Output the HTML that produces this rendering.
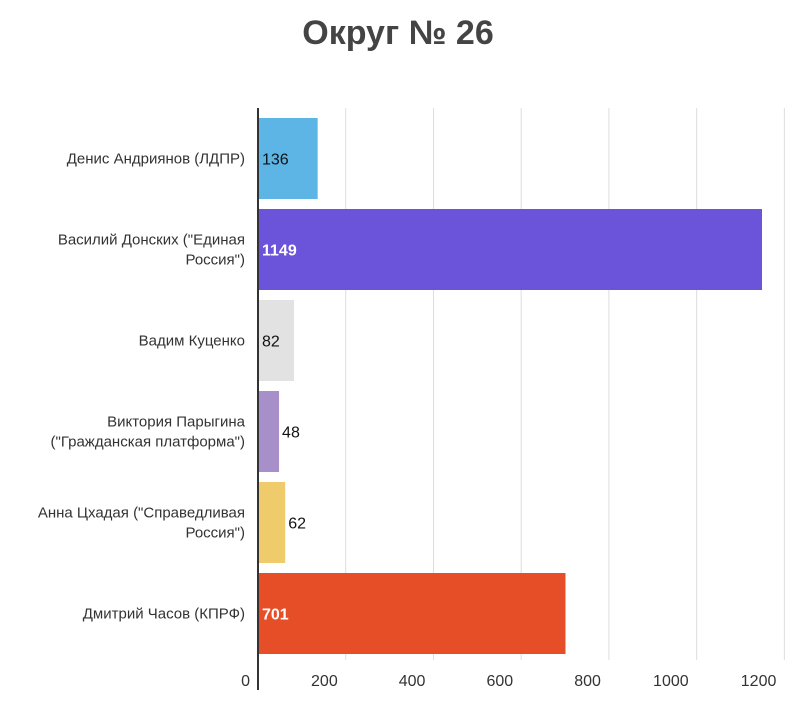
<!DOCTYPE html>
<html><head><meta charset="utf-8">
<style>
body{margin:0;background:#fff;font-family:"Liberation Sans",sans-serif;}
svg{display:block}
</style></head>
<body>
<svg id="c" width="800" height="705">
<text x="398" y="44" text-anchor="middle" font-size="34" font-weight="bold" fill="#444">Округ № 26</text>
<g id="grid"></g><g id="bars"></g><g id="cats"></g><g id="ticks"></g>
<line x1="258" y1="108" x2="258" y2="690" stroke="#333" stroke-width="2"/>
</svg>
<script>
const categories=[["Денис Андриянов (ЛДПР)"],["Василий Донских (\"Единая","Россия\")"],["Вадим Куценко"],["Виктория Парыгина","(\"Гражданская платформа\")"],["Анна Цхадая (\"Справедливая","Россия\")"],["Дмитрий Часов (КПРФ)"]];
const values=[136,1149,82,48,62,701];
const colors=["#5db5e6","#6b54da","#e2e2e2","#a78fc9","#f0cb6c","#e64e27"];
const tickValues=[0,200,400,600,800,1000,1200];
const x0=258,scale=(762-258)/1149,topY=113,band=91,bh=81;
const X=v=>x0+v*scale;
const ns="http://www.w3.org/2000/svg";
function mk(t,a,p){const e=document.createElementNS(ns,t);for(const k in a)e.setAttribute(k,a[k]);p.appendChild(e);return e;}
const G=document.getElementById('grid'),B=document.getElementById('bars'),C=document.getElementById('cats'),T=document.getElementById('ticks');
tickValues.forEach(v=>{
 if(v>0){const l=mk('line',{x1:X(v),x2:X(v),y1:108,y2:660,stroke:'#ddd','stroke-width':1},G);
 
 }
 const t=mk('text',{x:X(v)-8,y:686,'text-anchor':'end','font-size':16,fill:'#333'},T);t.textContent=v;
 
 
});
values.forEach((v,i)=>{
 const y=topY+i*band+5;
 const r=mk('rect',{x:x0,y:y,width:X(v)-x0,height:bh,fill:colors[i]},B);
 
 
 const w=X(v)-x0, inside=w>30, white=w>200;
 const t=mk('text',{x:inside?x0+4:X(v)+3,y:y+bh/2+6,'font-size':16,fill:white?'#fff':'#111','font-weight':white?'bold':'normal'},B);
 t.textContent=v;
 
 
 const lines=categories[i];
 const cy=y+bh/2+5-(lines.length-1)*10;
 lines.forEach((s,j)=>{const ct=mk('text',{x:245,y:cy+j*20,'text-anchor':'end','font-size':15,fill:'#333'},C);ct.textContent=s;
 
 });
});
</script>
</body></html>
